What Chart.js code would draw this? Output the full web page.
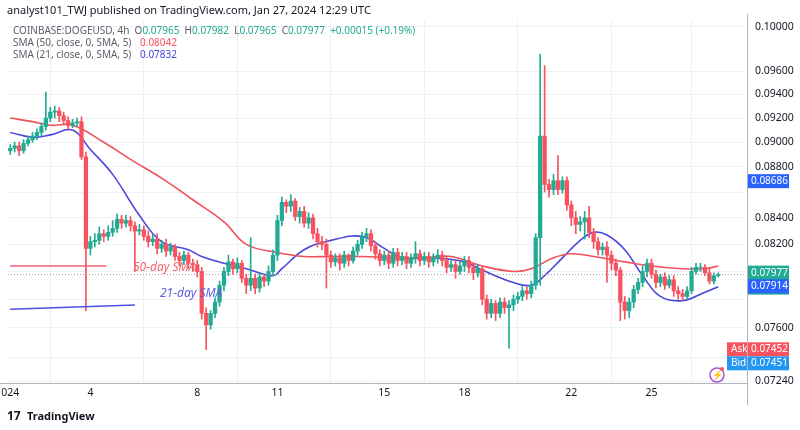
<!DOCTYPE html>
<html><head><meta charset="utf-8">
<script src="https://cdn.jsdelivr.net/npm/chart.js@4/dist/chart.umd.min.js"></script>
<style>html,body{margin:0;padding:0;background:#fff}#w{width:800px;height:430px;position:relative}</style>
</head><body><div id="w"><canvas id="c" width="800" height="430"></canvas></div>
<script>
// prices in units of 1e-4 (895 -> 0.0895), one candle per 4h starting Jan 1
const OPEN=[893,895,897,893,899,902, 905,908,913,920,925,926, 922,918,914,916,917,888, 817,822,823,828,826,829, 832,839,836,838,834,830, 831,826,822,824,817,820, 815,818,811,808,812,806, 805,800,770,762,770,778, 790,800,807,802,806,795, 790,795,788,796,793,800, 812,838,852,849,853,841, 845,836,840,828,822,820, 812,807,810,806,812,808, 815,820,826,828,819,813, 808,812,806,814,808,811, 806,810,813,808,811,807, 810,812,808,803,805,800, 804,808,803,799,802,780, 770,777,770,778,774,776, 780,782,786,784,790,825, 905,866,862,869,862,869, 850,840,835,837,840,829, 822,816,818,812,806,801, 778,772,778,787,792,800, 806,798,792,796,790,794, 786,784,782,786,800,803, 803,799,793,797];
const CLOSE=[895,897,893,899,902,905, 908,913,920,925,926,922, 918,914,916,917,888,817, 822,823,828,826,829,832, 839,836,838,834,830,831, 826,822,824,817,820,815, 818,811,808,812,806,805, 800,770,762,770,778,790, 800,807,802,806,795,790, 795,788,796,793,800,812, 838,852,849,853,841,845, 836,840,828,822,820,812, 807,810,806,812,808,815, 820,826,828,819,813,808, 812,806,814,808,811,806, 810,813,808,811,807,810, 812,808,803,805,800,804, 808,803,799,802,780,770, 777,770,778,774,776,780, 782,786,784,790,825,905, 866,862,869,862,869,850, 840,835,837,840,829,822, 816,818,812,806,801,778, 772,778,787,792,800,806, 798,792,796,790,794,786, 784,782,786,800,803,803, 799,793,797,798];
const HIGH=[898,900,900,902,905,908, 911,916,942,929,930,929, 925,921,919,920,921,892, 826,828,833,831,834,838, 843,842,842,841,837,835, 834,830,828,828,823,824, 821,820,814,815,814,809, 808,803,774,772,781,793, 803,812,809,810,808,798, 825,798,799,797,804,816, 842,856,854,858,855,848, 849,844,843,832,826,824, 815,813,813,815,813,818, 823,829,832,831,822,816, 815,815,817,817,814,814, 813,822,816,814,814,813, 816,815,811,808,808,807, 811,811,806,805,804,783, 780,779,781,781,779,783, 785,789,789,793,828,975, 965,870,874,889,872,872, 853,845,841,845,849,832, 825,821,822,815,809,803, 782,781,790,795,804,809, 809,801,798,799,797,797, 789,787,789,803,806,806, 805,802,799,799];
const LOW=[890,892,889,891,897,900, 902,905,910,917,920,917, 915,911,912,913,886,772, 812,818,820,822,823,826, 829,832,833,830,800,827, 823,818,819,813,814,811, 812,808,804,805,802,800, 796,766,745,759,767,775, 786,797,798,799,792,784, 786,784,785,789,790,797, 808,834,844,845,838,836, 833,832,824,818,816,788, 803,804,801,803,804,806, 812,817,822,815,809,804, 805,802,803,804,805,802, 803,806,804,805,803,804, 806,804,799,800,795,798, 800,799,794,796,776,766, 767,765,767,770,746,772, 777,779,780,781,787,790, 860,856,858,858,859,846, 834,828,830,824,825,817, 812,812,792,801,797,765, 766,767,774,784,789,796, 795,788,789,787,788,782, 780,779,780,784,798,800, 797,791,791,796];
const SMA50_X=[0,5,9,14,21,27,34,41,48,53,60,66,72,79,86,93,99,106,113,117,122,126,131,138,144,151,156,159];
const SMA50=[.0920,.0917,.0914,.0914,.0900,.0886,.0871,.0854,.0837,.0820,.0814,.0811,.0811,.0811,.0810,.0810,.0811,.0804,.0800,.0802,.0810,.0813,.0811,.0807,.0804,.0802,.0802,.0804];
const SMA21_X=[0,5,9,14,18,23,29,34,40,43,48,53,59,61,66,72,79,84,88,95,102,106,113,117,120,124,128,131,134,138,142,146,151,156,159];
const SMA21=[.0908,.0904,.0906,.0910,.0894,.0874,.0842,.0822,.0816,.0811,.0806,.0802,.0797,.0802,.0816,.0823,.0826,.0817,.0810,.0810,.0807,.0801,.0792,.0790,.0797,.0810,.0823,.0829,.0827,.0816,.0797,.0782,.0779,.0785,.0789];
const Y_TICKS=[0.1,0.096,0.094,0.092,0.090,0.088,0.086,0.084,0.082,0.080,0.078,0.076,0.074,0.0724];
const HIDDEN_LABELS=[0.086,0.080,0.078,0.074];
const DAY_TICKS=[1,4,8,11,15,18,22,25];
const LAST=0.07977;
const K=1e-4, G='#22ab94', R='#f7525f', BLUE='#2962ff';
const idx=OPEN.map((_,i)=>i);
const col=idx.map(i=>CLOSE[i]>=OPEN[i]?G:R);

const overlay={id:'ov',afterDatasetsDraw(ch){
  const c=ch.ctx,ya=ch.scales.y,a=ch.chartArea;
  c.save();
  c.setLineDash([1,2]);c.strokeStyle='#9598a1';c.lineWidth=1;
  const yl=ya.getPixelForValue(LAST);c.beginPath();c.moveTo(a.left,yl);c.lineTo(a.right,yl);c.stroke();c.setLineDash([]);
  c.font='italic 12px "Noto Sans"';c.textBaseline='middle';
  c.fillStyle='#f06470';c.fillText('50-day SMA',133,ya.getPixelForValue(0.0803));
  c.fillStyle='#5a5fe0';c.fillText('21-day SMA',160,ya.getPixelForValue(0.0784));
  c.fillStyle='#131722';c.font='11px "Noto Sans"';c.fillText('analyst101_TWJ published on TradingView.com, Jan 27, 2024 12:29 UTC',7,11);
  c.font='10px "Noto Sans"';
  let x=13;const seg=(t,cl)=>{c.fillStyle=cl;c.fillText(t,x,31);x+=c.measureText(t).width;};
  seg('COINBASE:DOGEUSD, 4h  ','#5d606b');seg('O','#5d606b');seg('0.07965  ',G);seg('H','#5d606b');seg('0.07982  ',G);
  seg('L','#5d606b');seg('0.07965  ',G);seg('C','#5d606b');seg('0.07977  ',G);seg('+0.00015 (+0.19%)',G);
  c.fillStyle='#5d606b';c.fillText('SMA (50, close, 0, SMA, 5)',13,43);c.fillStyle=R;c.fillText('0.08042',140,43);
  c.fillStyle='#5d606b';c.fillText('SMA (21, close, 0, SMA, 5)',13,55);c.fillStyle='#4343e0';c.fillText('0.07832',140,55);
  c.font='10px "Noto Sans"';c.textAlign='left';
  const W=41;
  const badge=(v,t,bg,dy)=>{const y=ya.getPixelForValue(v)+(dy||0);c.fillStyle=bg;c.fillRect(748,y-7,W,14);c.fillStyle='#fff';c.fillText(t,751,y);};
  badge(0.08686,'0.08686',BLUE);
  const yg=ya.getPixelForValue(LAST);c.fillStyle=G;c.fillRect(748,yg-9,W,29);c.fillStyle='#fff';c.fillText('0.07977',751,yg-1);c.fillText('03:30:21',751,yg+12);
  badge(0.07914,'0.07914',BLUE,3);
  const ya2=ya.getPixelForValue(0.07452);
  c.fillStyle=R;c.fillRect(727,ya2-7,W+21,14);c.fillStyle='#2196f3';c.fillRect(727,ya2+7,W+21,14);
  c.fillStyle='#fff';c.fillText('Ask',731,ya2);c.fillText('0.07452',751,ya2);c.fillText('Bid',731,ya2+14);c.fillText('0.07451',751,ya2+14);
  c.fillRect(747,ya2-8,1,30);
  c.strokeStyle='#b24bd8';c.lineWidth=1.5;c.beginPath();c.arc(717,375,7,0,Math.PI*2);c.stroke();
  c.fillStyle='#b24bd8';c.font='bold 9px "Noto Sans"';c.textAlign='center';c.fillText('⚡',717,375);
  c.fillStyle=R;c.beginPath();c.arc(722,369,2,0,Math.PI*2);c.fill();
  c.strokeStyle='#b2b5be';c.lineWidth=1;c.beginPath();c.moveTo(747.5,a.top-6);c.lineTo(747.5,405);c.moveTo(0,a.bottom+2.5);c.lineTo(747,a.bottom+2.5);c.stroke();
  c.textAlign='left';c.fillStyle='#131722';c.font='bold 12px "Noto Sans"';c.fillText('17',7,417);c.font='bold 11px "Noto Sans"';c.fillText('TradingView',27,417);
  c.restore();
}};

new Chart(document.getElementById('c'),{
  type:'bar',
  data:{datasets:[
    {type:'line',data:[{x:0,y:0.0804},{x:21.6,y:0.0804}],borderColor:'#f06470',borderWidth:1.5,pointRadius:0},
    {type:'line',data:[{x:0,y:0.0773},{x:28,y:0.0776}],borderColor:'#4a50e6',borderWidth:1.5,pointRadius:0},
    {data:idx.map(i=>({x:i,y:[LOW[i]*K,HIGH[i]*K]})),backgroundColor:col,barThickness:1,grouped:false},
    {data:idx.map(i=>({x:i,y:[OPEN[i]*K,CLOSE[i]===OPEN[i]?OPEN[i]*K+0.00002:CLOSE[i]*K]})),backgroundColor:col,barThickness:3.6,grouped:false},
    {type:'line',data:SMA50_X.map((x,i)=>({x,y:SMA50[i]})),borderColor:'#f0505a',borderWidth:1.6,pointRadius:0,tension:0.4},
    {type:'line',data:SMA21_X.map((x,i)=>({x,y:SMA21[i]})),borderColor:'#4a46e0',borderWidth:1.6,pointRadius:0,tension:0.4}
  ]},
  options:{responsive:false,animation:false,devicePixelRatio:1,
    layout:{padding:{left:8,top:20,right:0,bottom:0}},
    plugins:{legend:{display:false},tooltip:{enabled:false}},
    scales:{
      x:{type:'linear',min:-0.5,max:165,offset:false,
        afterBuildTicks(s){s.ticks=DAY_TICKS.map(d=>({value:(d-1)*6}));},
        afterFit(s){s.height=49;s.paddingLeft=0;s.paddingRight=0;},
        ticks:{autoSkip:false,callback:v=>{const d=v/6+1;return d===1?'024':String(d);},color:'#131722',font:{size:10.5,family:'Noto Sans'},maxRotation:0,padding:6},
        grid:{color:'#eef0f3',drawTicks:false},border:{display:false}},
      y:{type:'logarithmic',position:'right',min:0.0724,max:0.1006,
        afterBuildTicks(s){s.ticks=Y_TICKS.map(v=>({value:v}));},
        afterFit(s){s.width=55;},
        ticks:{callback:v=>HIDDEN_LABELS.includes(v)?'':v.toFixed(5),color:'#131722',font:{size:10.5,family:'Noto Sans'},padding:10},
        grid:{color:'#eef0f3',drawTicks:false},border:{display:false}}
    }},
  plugins:[overlay]
});
</script></body></html>
